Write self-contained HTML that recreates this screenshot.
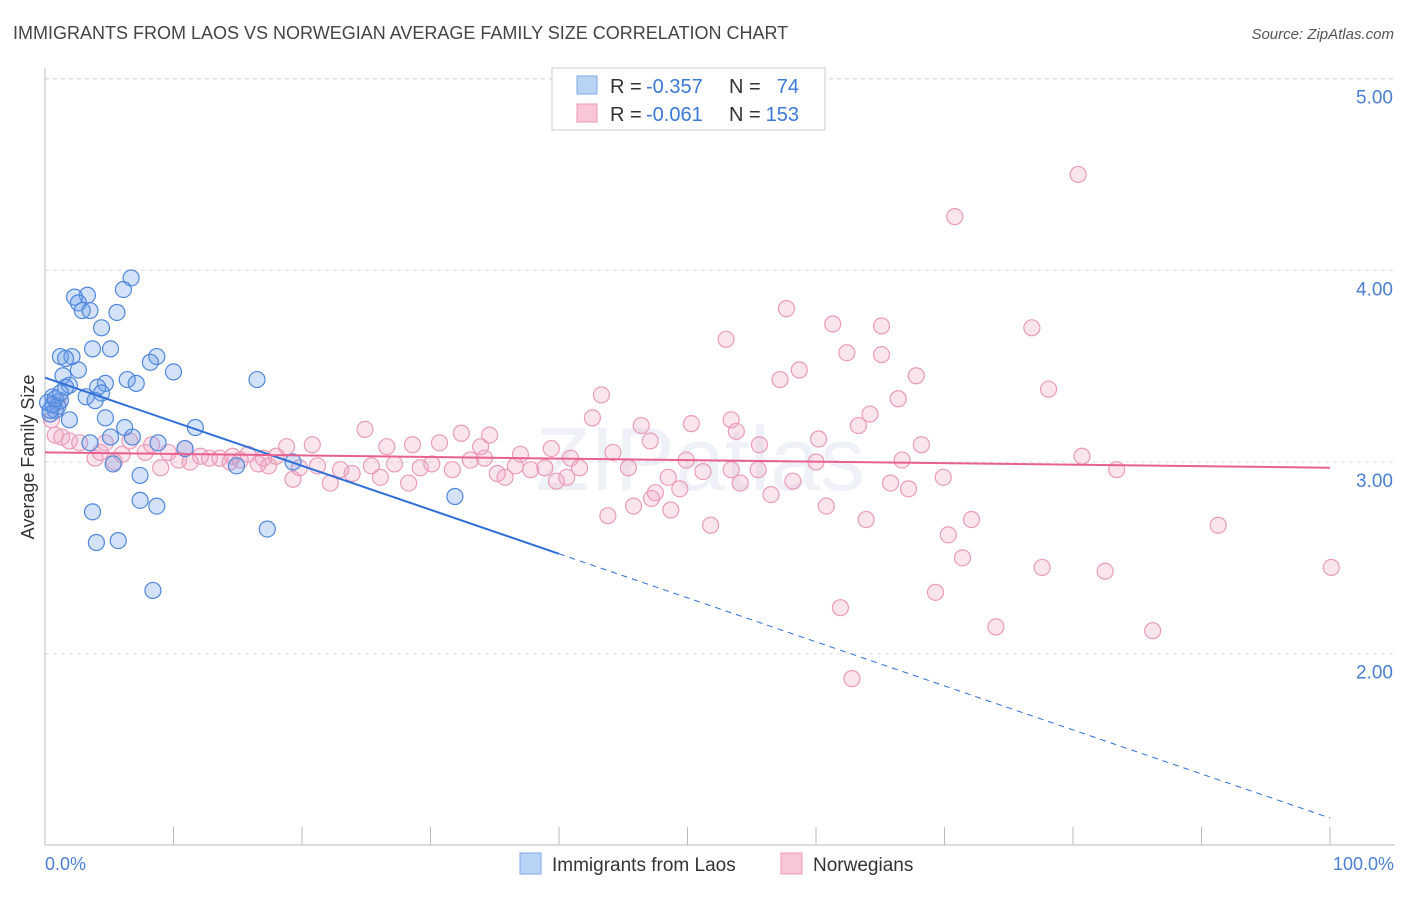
<!DOCTYPE html>
<html><head><meta charset="utf-8"><style>
body{margin:0;background:#fff;font-family:"Liberation Sans",sans-serif;}
</style></head><body>
<svg id="chart" width="1406" height="892" xmlns="http://www.w3.org/2000/svg" font-family="Liberation Sans, sans-serif">
<text x="13" y="39" font-size="18" fill="#444">IMMIGRANTS FROM LAOS VS NORWEGIAN AVERAGE FAMILY SIZE CORRELATION CHART</text>
<text x="1394" y="39" font-size="15" fill="#555" text-anchor="end" font-style="italic">Source: ZipAtlas.com</text>
<text x="700" y="490" font-size="90" fill="#eef2f8" text-anchor="middle">ZIPatlas</text>
<g id="grid"></g>
<g id="axes"></g>
<g id="pts"></g>
<g id="lines"></g>
<text transform="translate(34,457) rotate(-90)" font-size="18" fill="#333" text-anchor="middle">Average Family Size</text>
<text x="45" y="870" font-size="18" fill="#4a7fd4">0.0%</text>
<text x="1394" y="870" font-size="18" fill="#4a7fd4" text-anchor="end">100.0%</text>
<g>
<rect x="552" y="68" width="273" height="62" fill="#fff" stroke="#ccc"/>
<rect x="577" y="76" width="20" height="18" fill="#b9d3f5" stroke="#7fa9e6"/>
<rect x="577" y="104" width="20" height="18" fill="#f9c6d6" stroke="#ec9ab6"/>
<text x="610" y="93" font-size="20" fill="#333">R =</text>
<text x="646" y="93" font-size="20" fill="#3b78d8">-0.357</text>
<text x="729" y="93" font-size="20" fill="#333">N =</text>
<text x="799" y="93" font-size="20" fill="#3b78d8" text-anchor="end">74</text>
<text x="610" y="121" font-size="20" fill="#333">R =</text>
<text x="646" y="121" font-size="20" fill="#3b78d8">-0.061</text>
<text x="729" y="121" font-size="20" fill="#333">N =</text>
<text x="799" y="121" font-size="20" fill="#3b78d8" text-anchor="end">153</text>
</g>
<g>
<rect x="520" y="853" width="21" height="21" fill="#b9d3f5" stroke="#7fa9e6"/>
<text x="552" y="871" font-size="19" fill="#333">Immigrants from Laos</text>
<rect x="781" y="853" width="21" height="21" fill="#f9c6d6" stroke="#ec9ab6"/>
<text x="813" y="871" font-size="19" fill="#333">Norwegians</text>
</g>
</svg>
<script>
const yTicks=[2,3,4,5];
const yTickLabels=["2.00","3.00","4.00","5.00"];
const xTicks=[0,10,20,30,40,50,60,70,80,90,100];
const laosX=[6.7,6.1,2.3,3.3,2.6,2.9,3.5,5.6,4.4,3.7,5.1,1.2,2.1,1.6,8.7,8.2,10.0,2.6,1.4,4.7,6.4,7.1,16.5,1.9,1.6,4.1,4.4,3.2,0.6,1.2,0.2,1.0,0.8,3.9,0.4,1.9,4.7,11.7,6.2,5.1,6.8,3.5,8.8,10.9,5.3,7.4,14.9,19.3,3.7,7.4,8.7,5.7,4.0,17.3,31.9,8.4,0.4,0.6,0.8,1.2];
const laosY=[3.96,3.90,3.86,3.87,3.83,3.79,3.79,3.78,3.70,3.59,3.59,3.55,3.55,3.54,3.55,3.52,3.47,3.48,3.45,3.41,3.43,3.41,3.43,3.40,3.39,3.39,3.36,3.34,3.34,3.32,3.31,3.29,3.27,3.32,3.25,3.22,3.23,3.18,3.18,3.13,3.13,3.10,3.10,3.07,2.99,2.93,2.98,3.00,2.74,2.80,2.77,2.59,2.58,2.65,2.82,2.33,3.27,3.30,3.33,3.36];
const norX=[80.4,70.8,57.7,61.3,65.1,76.8,53.0,62.4,65.1,58.7,57.2,67.8,78.1,43.3,66.4,42.6,53.4,64.2,46.4,50.3,63.3,53.8,24.9,32.4,34.6,60.2,47.1,55.6,68.2,28.6,30.7,20.8,18.8,26.6,37.0,39.4,80.7,33.9,44.2,49.9,60.0,66.7,83.4,40.9,45.4,51.2,53.4,55.5,48.5,54.1,58.2,69.9,65.8,49.4,67.2,47.5,47.2,56.5,43.8,45.8,48.7,60.8,51.8,63.9,72.1,70.3,71.4,91.3,77.6,82.5,100.1,69.3,61.9,74.0,86.2,62.8,
0.8,1.3,1.9,2.7,3.9,4.3,5.4,6.0,6.6,7.8,8.3,9.0,9.6,10.4,11.3,12.1,12.8,13.6,14.6,15.2,15.8,16.6,17.4,18.0,19.3,19.8,21.2,22.2,23.0,23.9,25.4,26.1,27.2,28.3,29.2,30.1,31.7,33.1,34.2,35.2,35.8,36.6,37.8,38.9,39.8,40.6,41.6,0.5,1.0,4.7,10.9,17.0,14.4];
const norY=[4.50,4.28,3.80,3.72,3.71,3.70,3.64,3.57,3.56,3.48,3.43,3.45,3.38,3.35,3.33,3.23,3.22,3.25,3.19,3.20,3.19,3.16,3.17,3.15,3.14,3.12,3.11,3.09,3.09,3.09,3.10,3.09,3.08,3.08,3.04,3.07,3.03,3.08,3.05,3.01,3.00,3.01,2.96,3.02,2.97,2.95,2.96,2.96,2.92,2.89,2.90,2.92,2.89,2.86,2.86,2.84,2.81,2.83,2.72,2.77,2.75,2.77,2.67,2.70,2.70,2.62,2.50,2.67,2.45,2.43,2.45,2.32,2.24,2.14,2.12,1.87,
3.14,3.13,3.11,3.10,3.02,3.05,3.00,3.04,3.11,3.05,3.09,2.97,3.05,3.01,3.00,3.03,3.02,3.02,3.03,3.01,3.04,2.99,2.98,3.03,2.91,2.97,2.98,2.89,2.96,2.94,2.98,2.92,2.99,2.89,2.97,2.99,2.96,3.01,3.02,2.94,2.92,2.98,2.96,2.97,2.90,2.92,2.97,3.22,3.31,3.10,3.07,3.02,3.00];
const laosTrend=[3.44,1.143];
const norTrend=[3.05,2.97];
const NS="http://www.w3.org/2000/svg";
const X=p=>45+p*12.85, Y=v=>462-(v-3)*191.7;
function mk(tag,attrs,parent){const e=document.createElementNS(NS,tag);for(const k in attrs)e.setAttribute(k,attrs[k]);document.getElementById(parent).appendChild(e);return e;}
yTicks.forEach((t,i)=>{
 const g=mk('line',{x1:45,x2:1395,y1:Y(t),y2:Y(t),stroke:'#dcdcdc','stroke-dasharray':'4,4'},'grid');
 
 
 const tx=mk('text',{x:1393,y:Y(t)+25,'font-size':19,fill:'#4a7fd4','text-anchor':'end'},'grid');
 tx.textContent=yTickLabels[i];
 
 
});
const topLine=mk('line',{x1:45,x2:1395,y1:79,y2:79,stroke:'#dcdcdc','stroke-dasharray':'4,4'},'grid');


const ya=mk('line',{x1:45,x2:45,y1:68,y2:845,stroke:'#bbb'},'axes');


const xa=mk('line',{x1:45,x2:1395,y1:845,y2:845,stroke:'#bbb'},'axes');


xTicks.forEach(t=>{
 const l=mk('line',{x1:X(t),x2:X(t),y1:827,y2:845,stroke:'#bbb'},'axes');
 
 
});
norX.forEach((x,i)=>{
 const c=mk('circle',{cx:X(x),cy:Y(norY[i]),r:8,fill:'rgba(242,160,190,0.28)',stroke:'#eb9bb8','stroke-width':1.2},'pts');
 
 
});
laosX.forEach((x,i)=>{
 const c=mk('circle',{cx:X(x),cy:Y(laosY[i]),r:8,fill:'rgba(110,160,235,0.3)',stroke:'#4f87db','stroke-width':1.2},'pts');
 
 
});
const lv=p=>laosTrend[0]+(laosTrend[1]-laosTrend[0])*p/100;
const s1=mk('line',{x1:X(0),y1:Y(lv(0)),x2:X(40),y2:Y(lv(40)),stroke:'#2f6fd8','stroke-width':2},'lines');


const s2=mk('line',{x1:X(40),y1:Y(lv(40)),x2:X(100),y2:Y(lv(100)),stroke:'#2f6fd8','stroke-width':1,'stroke-dasharray':'6,5'},'lines');


const s3=mk('line',{x1:X(0),y1:Y(norTrend[0]),x2:X(100),y2:Y(norTrend[1]),stroke:'#e8608e','stroke-width':2},'lines');


</script>
</body></html>
